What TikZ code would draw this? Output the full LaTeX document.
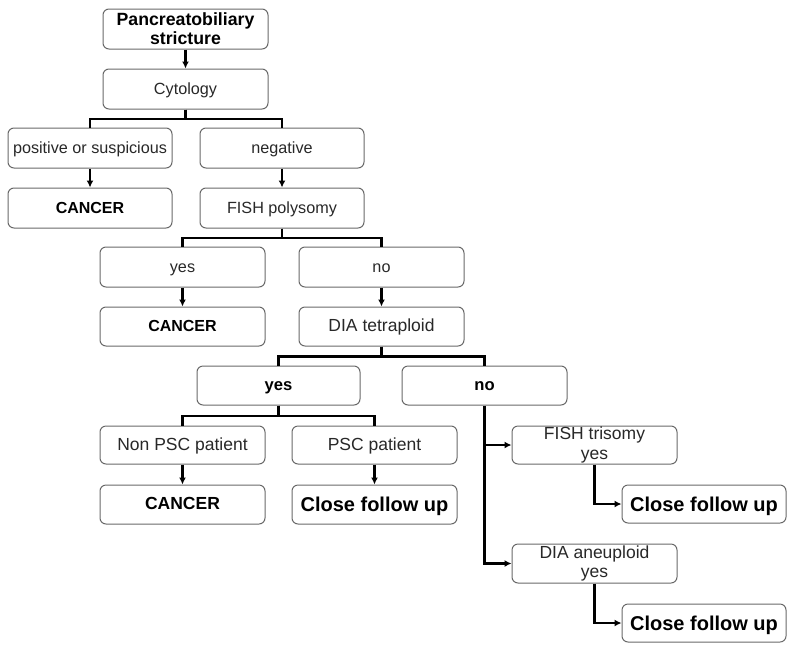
\documentclass[tikz,border=0pt]{standalone}
\usepackage{fontspec}
\setmainfont{Liberation Sans}
\usetikzlibrary{arrows.meta}
\definecolor{boxgray}{RGB}{105,105,105}
\definecolor{txtgray}{RGB}{40,40,40}
\tikzset{
  box/.style={draw=boxgray, line width=1pt, rounded corners=6pt, fill=white,
    minimum width=165pt, minimum height=40pt, inner sep=0pt, align=center, text=black},
  one/.style={text height=14.5pt, text depth=4pt},
  fs/.style={one, font=\fontsize{16.2}{19}\selectfont, text=txtgray},
  fsb/.style={one, font=\fontsize{16}{19}\selectfont\bfseries},
  fm/.style={one, font=\fontsize{17.5}{19.5}\selectfont, text=txtgray},
  fmb/.style={one, font=\fontsize{17.5}{19.5}\selectfont\bfseries},
  fbig/.style={text height=16pt, text depth=2pt, font=\fontsize{20}{22}\selectfont\bfseries},
  conn/.style={line width=2.6pt},
  arr/.style={conn, -{Latex[length=7pt,width=7pt]}}
}
\begin{document}
\begin{tikzpicture}[x=1pt,y=-1pt]
\useasboundingbox (0,0) rectangle (800,659);
% nodes
\node[box, font=\fontsize{17.7}{19}\selectfont\bfseries] (top) at (185.5,29) {\raisebox{-2pt}{\parbox{165pt}{\centering Pancreatobiliary\\stricture}}};
\node[box, fs] (cyto) at (185.5,89) {Cytology};
\node[box, fs, minimum width=164pt] (pos) at (90,148) {positive or suspicious};
\node[box, fs, minimum width=164pt] (neg) at (282,148) {negative};
\node[box, fsb, minimum width=164pt] (can1) at (90,208) {CANCER};
\node[box, fs, minimum width=164pt] (fishp) at (282,208) {FISH polysomy};
\node[box, fs] (yes1) at (182.5,267) {yes};
\node[box, fs] (no1) at (381.5,267) {no};
\node[box, fsb, minimum height=39pt] (can2) at (182.5,326.5) {CANCER};
\node[box, fm, minimum height=39pt] (diat) at (381.5,326.5) {DIA tetraploid};
\node[box, one, font=\fontsize{16.6}{19}\selectfont\bfseries, minimum width=163pt, minimum height=39pt] (yes2) at (278.5,385.5) {yes};
\node[box, one, font=\fontsize{16.6}{19}\selectfont\bfseries, minimum height=39pt] (no2) at (484.5,385.5) {no};
\node[box, fm, minimum height=38pt] (npsc) at (182.5,445) {Non PSC patient};
\node[box, fm, minimum height=38pt] (psc) at (374.5,445) {PSC patient};
\node[box, fmb, minimum height=39pt] (can3) at (182.5,504.5) {CANCER};
\node[box, fbig, minimum height=39pt] (cfu1) at (374.5,504.5) {Close follow up};
\node[box, font=\fontsize{17.5}{19.5}\selectfont, text=txtgray, minimum height=38pt] (fisht) at (594.5,445) {\raisebox{-2pt}{\parbox{165pt}{\centering FISH trisomy\\yes}}};
\node[box, fbig, minimum width=164pt, minimum height=38pt] (cfu2) at (704,504) {Close follow up};
\node[box, font=\fontsize{17.5}{19.5}\selectfont, text=txtgray, minimum height=39pt] (diaa) at (594.5,563.5) {\raisebox{-2pt}{\parbox{165pt}{\centering DIA aneuploid\\yes}}};
\node[box, fbig, minimum width=164pt, minimum height=38pt] (cfu3) at (704,623) {Close follow up};
% connectors
\draw[arr] (top) -- (cyto);
\draw[conn] (cyto.south) -- ++(0,9.5) -| (pos.north);
\draw[conn] (cyto.south) -- ++(0,9.5) -| (neg.north);
\draw[arr] (pos) -- (can1);
\draw[arr] (neg) -- (fishp);
\draw[conn] (fishp.south) -- ++(0,9.5) -| (yes1.north);
\draw[conn] (fishp.south) -- ++(0,9.5) -| (no1.north);
\draw[arr] (yes1) -- (can2);
\draw[arr] (no1) -- (diat);
\draw[conn] (diat.south) -- ++(0,10) -| (yes2.north);
\draw[conn] (diat.south) -- ++(0,10) -| (no2.north);
\draw[conn] (yes2.south) -- ++(0,10.5) -| (npsc.north);
\draw[conn] (yes2.south) -- ++(0,10.5) -| (psc.north);
\draw[arr] (npsc) -- (can3);
\draw[arr] (psc) -- (cfu1);
\draw[arr] (no2.south) |- (diaa.west);
\draw[arr] (no2.south |- fisht.west) -- (fisht.west);
\draw[arr] (fisht.south) |- (cfu2.west);
\draw[arr] (diaa.south) |- (cfu3.west);
\end{tikzpicture}
\end{document}
